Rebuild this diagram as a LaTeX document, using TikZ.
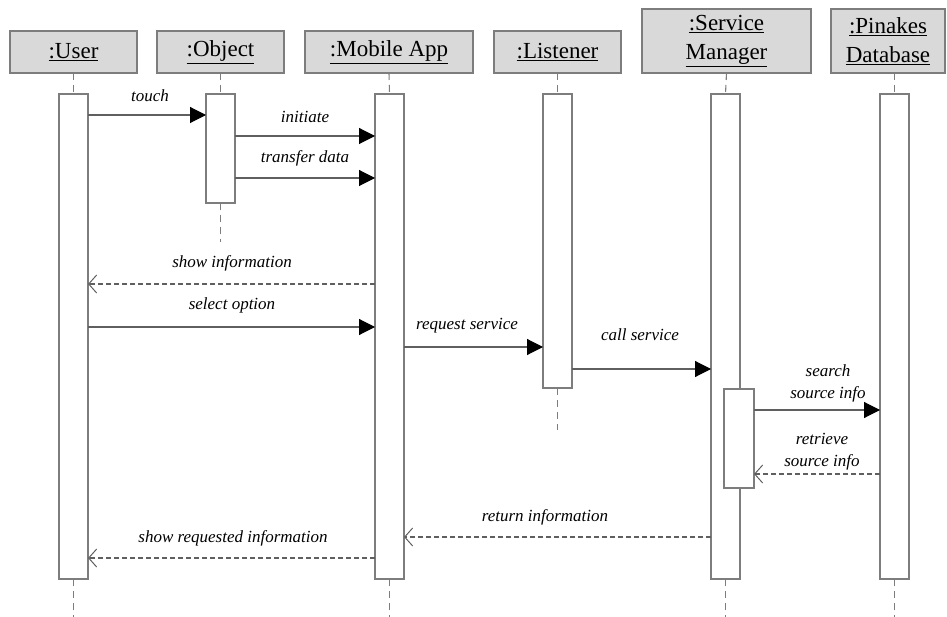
\documentclass[tikz,border=0pt]{standalone}
\usepackage{fontspec}
\setmainfont{Liberation Serif}
\usetikzlibrary{arrows.meta}
\definecolor{boxfill}{RGB}{217,217,217}
\definecolor{edge}{RGB}{125,125,125}
\definecolor{wire}{RGB}{95,95,95}
\tikzset{
  head/.style={draw=edge, fill=boxfill, line width=1.2pt, inner sep=0pt, outer sep=0pt,
    align=center, font=\fontsize{23}{29}\selectfont},
  bar/.style={draw=edge, fill=white, line width=1.2pt, inner sep=0pt, outer sep=0pt,
    minimum width=29pt},
  life/.style={draw=edge, line width=1.1pt, dash pattern=on 7pt off 5pt},
  msg/.style={draw=wire, line width=1.1pt,
    -{Triangle[length=16pt,width=16pt,fill=black,color=black]}},
  reply/.style={draw=wire, line width=1.1pt, dash pattern=on 5pt off 3pt,
    -{Straight Barb[length=8pt,width=18pt,line width=1pt]}},
  lbl/.style={font=\fontsize{17}{22}\selectfont\itshape, align=center, inner sep=0pt}
}
\begin{document}
\begin{tikzpicture}[x=1pt,y=-1pt]
\useasboundingbox (0,0) rectangle (947,617);

% participant headers
\node[head, minimum width=127pt, minimum height=42pt] (huser) at (73.5,52) {\underline{:User}};
\node[head, minimum width=127pt, minimum height=42pt] (hobj) at (220.5,52) {\underline{:Object}};
\node[head, minimum width=168pt, minimum height=42pt] (happ) at (389,52) {\underline{:Mobile App}};
\node[head, minimum width=127pt, minimum height=42pt] (hlis) at (557.5,52) {\underline{:Listener}};
\node[head, minimum width=169pt, minimum height=64pt] (hsm) at (726.5,41) {\underline{:Service}\\\underline{Manager}};
\node[head, minimum width=114pt, minimum height=64pt] (hdb) at (888,41) {\underline{:Pinakes}\\\underline{Database}};

% activation bars
\node[bar, minimum height=485pt, anchor=north] (buser) at (73.5,94) {};
\node[bar, minimum height=109pt, anchor=north] (bobj) at (220.5,94) {};
\node[bar, minimum height=485pt, anchor=north] (bapp) at (389.5,94) {};
\node[bar, minimum height=294pt, anchor=north] (blis) at (557.5,94) {};
\node[bar, minimum height=485pt, anchor=north] (bsm) at (725.5,94) {};
\node[bar, minimum height=485pt, anchor=north] (bdb) at (894.5,94) {};
\node[bar, minimum width=30pt, minimum height=99pt, anchor=north] (bsm2) at (739,389) {};

% lifelines
\coordinate (eobj) at (220.5,242);
\coordinate (elis) at (557.5,430);
\foreach \b in {buser,bapp,bsm,bdb} {
  \draw[life] (\b.south) -- ++(0,40);
}
\draw[life] (bobj.south) -- (eobj);
\draw[life] (blis.south) -- (elis);
\draw[life] (huser.south) -- (buser.north);
\draw[life] (hobj.south) -- (bobj.north);
\draw[life] (happ.south) -- (bapp.north);
\draw[life] (hlis.south) -- (blis.north);
\draw[life] (hsm.south) -- (bsm.north);
\draw[life] (hdb.south -| bdb.north) -- (bdb.north);

% messages
\draw[msg] (buser.east |- 0,115) -- (bobj.west |- 0,115);
\node[lbl] at (150,96) {touch};
\draw[msg] (bobj.east |- 0,136) -- (bapp.west |- 0,136);
\node[lbl] at (305,117) {initiate};
\draw[msg] (bobj.east |- 0,178) -- (bapp.west |- 0,178);
\node[lbl] at (305,158) {transfer data};
\draw[reply] (bapp.west |- 0,284) -- (buser.east |- 0,284);
\node[lbl] at (232,263) {show information};
\draw[msg] (buser.east |- 0,327) -- (bapp.west |- 0,327);
\node[lbl] at (232,305) {select option};
\draw[msg] (bapp.east |- 0,347) -- (blis.west |- 0,347);
\node[lbl] at (467,326) {request service};
\draw[msg] (blis.east |- 0,369) -- (bsm.west |- 0,369);
\node[lbl] at (640,335) {call service};
\draw[msg] (bsm2.east |- 0,410) -- (bdb.west |- 0,410);
\node[lbl] at (828,383) {search\\source info};
\draw[reply] (bdb.west |- 0,474) -- (bsm2.east |- 0,474);
\node[lbl] at (822,452) {retrieve\\source info};
\draw[reply] (bsm.west |- 0,537) -- (bapp.east |- 0,537);
\node[lbl] at (545,517) {return information};
\draw[reply] (bapp.west |- 0,558) -- (buser.east |- 0,558);
\node[lbl] at (233,538) {show requested information};
\end{tikzpicture}
\end{document}
